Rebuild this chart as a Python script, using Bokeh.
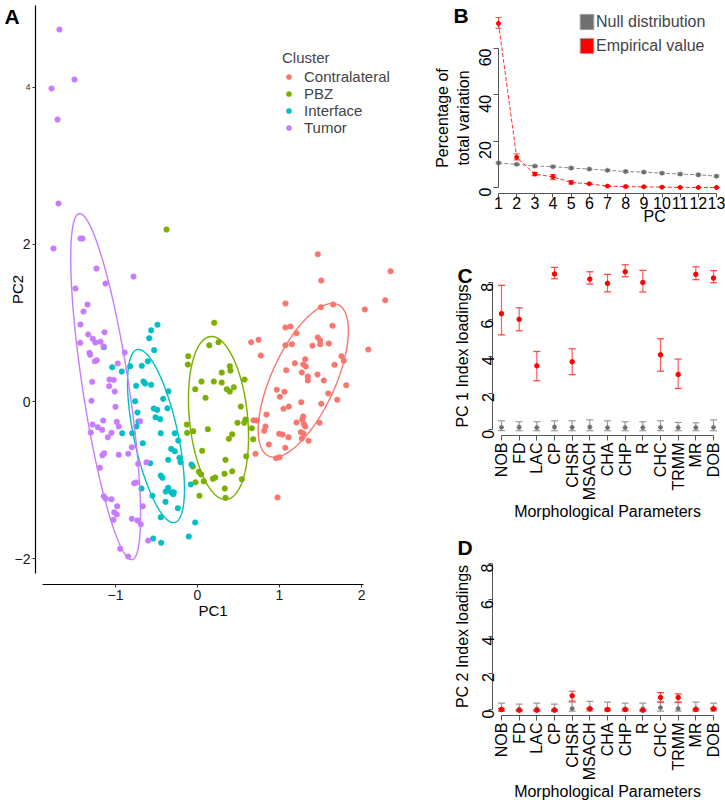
import math
import numpy as np
from bokeh.plotting import figure
from bokeh.layouts import row, column
from bokeh.models import (ColumnDataSource, Range1d, FixedTicker, Legend, LegendItem,
                          Label, Whisker, TeeHead)
from bokeh.embed import file_html
from bokeh.resources import INLINE

FONT = "Liberation Sans"

# ---------------- Panel A data ----------------
clusters = ["Contralateral", "PBZ", "Interface", "Tumor"]
cluster_colors = ["#F8766D", "#7CAE00", "#00BFC4", "#C77CFF"]

contra_pc1 = [1.467, 1.509, 2.354, 2.289, 2.040, 1.655, 1.504, 1.646, 1.467, 1.496,
              1.496, 1.601, 1.402, 2.082, 1.313, 1.289, 1.321, 1.756, 1.784, 1.671,
              1.272, 1.463, 1.345, 1.345, 1.540, 1.813, 1.594, 1.704, 1.509, 1.265,
              1.289, 1.277, 1.488, 1.296, 1.313,
              0.655, 0.744, 0.772, 1.073, 1.134, 1.207, 1.150, 1.073, 1.187, 1.082,
              0.967, 1.061, 1.004, 1.113, 1.049, 0.841, 0.683, 0.723, 1.207, 0.829,
              0.813, 1.260, 1.293, 0.996, 1.037, 1.110, 1.272, 0.870, 1.070, 0.707,
              0.960, 1.000, 1.354, 0.976, 1.073]
contra_pc2 = [1.876, 1.541, 1.660, 1.290, 1.172, 1.236, 1.201, 0.964, 0.815, 0.777,
              0.730, 0.739, 0.710, 0.662, 0.539, 0.471, 0.446, 0.577, 0.518, 0.468,
              0.369, 0.344, 0.318, 0.268, 0.268, 0.208, 0.102, 0.022, -0.029, -0.009,
              -0.191, -0.229, -0.271, -0.284, -0.318,
              0.755, 0.786, 0.586, 0.943, 0.955, 0.870, 0.730, 0.717, 0.488, 0.399,
              0.149, 0.124, 0.060, -0.064, -0.093, -0.166, -0.238, -0.242, -0.268, -0.318,
              -0.373, -0.391, -0.408, -0.411, -0.420, -0.455, -0.471, -0.548, -0.590, -0.666,
              -0.722, -0.710, -0.501, -1.223, 1.248]

pbz_pc1 = [-0.378, 0.204, 0.143, 0.256, -0.113, -0.118, 0.394, 0.402, 0.296, 0.049,
           0.199, 0.296, 0.573, 0.443, 0.357, 0.394, -0.028, 0.098, 0.528, 0.585,
           0.570, 0.488, 0.662, 0.126, -0.052, -0.130, -0.126, 0.423, 0.382, 0.679,
           0.057, 0.341, 0.594, -0.057, 0.016, 0.045, 0.077, -0.024, 0.187, 0.216,
           0.329, 0.423, 0.540, 0.024, 0.333, 0.341]
pbz_pc2 = [2.191, 1.003, 0.717, 0.755, 0.577, 0.471, 0.450, 0.395, 0.369, 0.255,
           0.255, 0.242, 0.280, 0.182, 0.157, 0.127, 0.157, 0.047, -0.064, -0.229,
           -0.271, -0.271, -0.340, -0.353, -0.378, -0.293, -0.399, -0.417, -0.475, -0.480,
           -0.628, -0.743, -0.697, -0.828, -0.896, -0.930, -1.015, -1.028, -0.985, -0.968,
           -0.921, -0.888, -0.990, -1.201, -1.108, -1.227]

inter_pc1 = [-0.488, -0.565, -0.589, -0.528, -1.143, -1.040, -0.923, -0.821, -0.679, -0.606,
             -0.659, -0.638, -0.748, -0.565, -0.354, -0.418, -0.760, -0.533, -0.491, -0.366,
             -0.732, -0.512, -0.455, -0.720, -0.744, -0.918, -0.796, -0.448, -0.277, -0.667,
             -0.321, -0.277, -0.220, -0.357, -0.577, -0.207, -0.448, -0.427, -0.683, -0.357,
             -0.387, -0.321, -0.296, -0.289, -0.549, -0.390, -0.240, -0.448, -0.028, -0.106,
             -0.540, -0.443, -0.235, -0.073, -0.082]
inter_pc2 = [0.977, 0.908, 0.806, 0.654, 0.692, 0.437, 0.382, 0.450, 0.455, 0.513,
             0.255, 0.229, 0.200, 0.213, 0.131, 0.034, 0.004, -0.089, -0.106, -0.085,
             -0.140, -0.200, -0.225, -0.255, -0.318, -0.404, -0.404, -0.404, -0.404, -0.531,
             -0.603, -0.633, -0.717, -0.743, -0.786, -0.773, -0.943, -0.972, -1.108, -1.099,
             -1.146, -1.155, -1.181, -1.155, -1.201, -1.278, -1.359, -1.474, -1.541, -1.720,
             -1.745, -1.800, -0.497, -0.803, -1.057]

tumor_pc1 = [-1.683, -1.500, -1.780, -1.707, -1.695, -1.756, -1.427, -1.402, -1.232, -1.122,
             -0.780, -1.488, -1.341, -1.390, -1.427, -1.333, -1.134, -1.277, -1.244, -1.183,
             -1.143, -1.430, -1.317, -1.309, -1.228, -1.252, -0.887, -0.972, -1.073, -1.021,
             -1.077, -1.284, -1.009, -1.293, -1.000, -1.280, -1.216, -1.150, -1.162, -0.984,
             -0.960, -1.301, -1.094, -1.049, -0.801, -1.138, -1.159, -0.960, -0.845, -0.699,
             -0.622, -0.723, -1.191, -0.772, -0.748, -1.143, -1.118, -1.049, -0.979, -1.016,
             -0.984, -1.024, -0.801, -0.732, -0.691, -0.943, -0.845, -0.601, -0.667]
tumor_pc2 = [4.739, 4.102, 3.987, 3.592, 2.522, 1.949, 2.076, 2.076, 1.694, 1.503,
             1.592, 1.439, 1.236, 1.146, 0.981, 0.854, 0.883, 0.799, 0.752, 0.761,
             0.701, 0.748, 0.620, 0.595, 0.526, 0.513, 0.624, 0.484, 0.280, 0.276,
             0.195, 0.251, 0.127, 0.009, -0.068, -0.293, -0.327, -0.242, -0.361, -0.259,
             -0.318, -0.395, -0.455, -0.399, -0.582, -0.659, -0.684, -0.679, -0.666, -0.251,
             -0.773, -0.794, -0.845, -1.041, -1.032, -1.206, -1.239, -1.245, -1.334, -1.410,
             -1.439, -1.507, -1.494, -1.516, -1.563, -1.876, -1.975, -1.771, -1.334]

# confidence ellipses (centre, semi-axes, rotation in degrees), order as clusters
ell_cx = [1.29, 0.256, -0.506, -1.12]
ell_cy = [0.27, -0.21, -0.44, 0.19]
ell_a = [1.053, 1.042, 1.124, 2.227]
ell_b = [0.391, 0.355, 0.269, 0.282]
ell_theta = [66.7, 95.3, 101.6, 98.3]

# ---------------- Panel B data ----------------
pcs = [1, 2, 3, 4, 5, 6, 7, 8, 9, 10, 11, 12, 13]
null_var = [10.6, 10.0, 9.25, 9.0, 8.4, 7.95, 7.4, 6.9, 6.65, 6.2, 5.8, 5.5, 4.9]
null_var_lo = [10.2, 9.6, 8.9, 8.6, 8.0, 7.6, 7.0, 6.5, 6.3, 5.8, 5.4, 5.1, 4.5]
null_var_hi = [11.0, 10.4, 9.6, 9.4, 8.8, 8.3, 7.8, 7.3, 7.0, 6.6, 6.2, 5.9, 5.3]
emp_var = [70.8, 13.0, 5.8, 4.6, 2.2, 1.6, 0.6, 0.4, 0.3, 0.15, 0.05, 0.0, 0.0]
emp_var_lo = [68.7, 11.9, 5.1, 3.4, 1.5, 1.3, 0.4, 0.2, 0.1, 0.0, 0.0, 0.0, 0.0]
emp_var_hi = [73.4, 14.5, 6.5, 5.6, 2.9, 1.9, 0.8, 0.6, 0.5, 0.3, 0.1, 0.05, 0.05]

# ---------------- Panels C / D data ----------------
params = ["NOB", "FD", "LAC", "CP", "CHSR", "MSACH", "CHA", "CHP", "R", "CHC", "TRMM", "MR", "DOB"]
pc1_emp = [6.32, 6.01, 3.48, 8.48, 3.70, 8.20, 7.97, 8.60, 8.02, 4.08, 3.01, 8.46, 8.26]
pc1_emp_lo = [5.17, 5.39, 2.67, 8.22, 3.00, 7.93, 7.51, 8.33, 7.50, 3.19, 2.25, 8.17, 8.00]
pc1_emp_hi = [7.86, 6.64, 4.26, 8.84, 4.41, 8.60, 8.46, 8.98, 8.68, 4.95, 3.85, 8.87, 8.66]
pc1_null = [0.13, 0.14, 0.12, 0.15, 0.13, 0.15, 0.12, 0.12, 0.12, 0.13, 0.12, 0.12, 0.13]
pc1_null_lo = [-0.05, -0.05, -0.05, -0.05, -0.05, -0.05, -0.05, -0.05, -0.05, -0.05, -0.05, -0.05, -0.05]
pc1_null_hi = [0.49, 0.44, 0.44, 0.49, 0.49, 0.54, 0.49, 0.44, 0.44, 0.49, 0.40, 0.38, 0.54]

pc2_emp = [0.0, -0.04, -0.04, -0.04, 0.75, 0.04, 0.0, 0.0, -0.04, 0.66, 0.66, 0.0, 0.04]
pc2_emp_lo = [-0.06, -0.08, -0.08, -0.08, 0.46, 0.0, -0.04, -0.04, -0.08, 0.40, 0.40, -0.04, 0.0]
pc2_emp_hi = [0.05, 0.0, 0.0, 0.0, 1.0, 0.08, 0.04, 0.04, 0.0, 0.92, 0.86, 0.04, 0.08]
pc2_null = [0.02, 0.0, 0.02, 0.0, 0.05, 0.04, 0.02, 0.02, 0.03, 0.10, 0.05, 0.04, 0.04]
pc2_null_lo = [-0.09, -0.09, -0.09, -0.09, -0.09, -0.09, -0.09, -0.09, -0.09, -0.09, -0.09, -0.09, -0.09]
pc2_null_hi = [0.35, 0.29, 0.35, 0.29, 0.40, 0.44, 0.40, 0.35, 0.35, 0.40, 0.38, 0.40, 0.35]

RED = "#FF0000"
RED_BAR = "#FF4040"
GRAY_PT = "#6E6E6E"
GRAY_BAR = "#9A9A9A"
AX_GRAY = "#555555"


def base_fig(**kw):
    p = figure(output_backend="svg", toolbar_location=None, **kw)
    p.xgrid.visible = False
    p.ygrid.visible = False
    p.outline_line_color = None
    p.background_fill_color = "white"
    p.border_fill_color = "white"
    for ax in p.axis:
        ax.major_label_text_font = FONT
        ax.axis_label_text_font = FONT
        ax.axis_label_text_font_style = "normal"
        ax.minor_tick_line_color = None
    return p


def panel_letter(p, text, x, y):
    p.add_layout(Label(x=x, y=y, text=text,
                       text_font=FONT, text_font_style="bold", text_font_size="21px",
                       text_baseline="top", text_align="left", text_color="black"))


# ---------------- Panel A ----------------
pA = base_fig(width=425, height=800,
              x_range=Range1d(-2.402, 2.780), y_range=Range1d(-2.331, 5.108),
              min_border_left=0, min_border_right=0, min_border_top=0, min_border_bottom=216)

pc1_sets = [contra_pc1, pbz_pc1, inter_pc1, tumor_pc1]
pc2_sets = [contra_pc2, pbz_pc2, inter_pc2, tumor_pc2]
items = []
for name, col, xs, ys, cx, cy, a, b, th in zip(clusters, cluster_colors, pc1_sets, pc2_sets,
                                               ell_cx, ell_cy, ell_a, ell_b, ell_theta):
    r = pA.scatter(x=xs, y=ys, size=5.6, fill_color=col, line_color=col, line_width=0.5)
    items.append(LegendItem(label=name, renderers=[r]))
    t = np.linspace(0, 2 * np.pi, 241)
    tr = np.deg2rad(th)
    ex = cx + a * np.cos(t) * np.cos(tr) - b * np.sin(t) * np.sin(tr)
    ey = cy + a * np.cos(t) * np.sin(tr) + b * np.sin(t) * np.cos(tr)
    pA.line(x=ex, y=ey, line_color=col, line_width=1.4)

legA = Legend(items=items, location=(282, 448), title="Cluster",
              title_text_font=FONT, title_text_font_size="15px", title_text_font_style="normal",
              label_text_font=FONT, label_text_font_size="15px",
              glyph_width=13, glyph_height=17, label_height=17, spacing=0,
              label_standoff=9, padding=0, margin=0, title_standoff=2,
              border_line_color=None, background_fill_alpha=0)
pA.add_layout(legA)

pA.xaxis.ticker = FixedTicker(ticks=[-1, 0, 1, 2])
pA.yaxis.ticker = FixedTicker(ticks=[-2, 0, 2, 4])
pA.yaxis.fixed_location = -1.976
pA.xaxis.bounds = (-1.89, 2.02)
pA.yaxis.bounds = (-2.19, 5.045)
pA.xaxis.axis_label = "PC1"
pA.yaxis.axis_label = "PC2"
pA.yaxis.major_label_overrides = {4: ""}
for ax in pA.axis:
    ax.axis_line_color = "black"
    ax.axis_line_width = 1.2
    ax.major_tick_line_color = "#333333"
    ax.major_tick_out = 3
    ax.major_tick_in = 0
    ax.major_label_standoff = 2
    ax.major_label_text_font_size = "14px"
    ax.major_label_text_color = "#1a1a1a"
    ax.axis_label_text_font_size = "15px"
    ax.axis_label_text_color = "black"
pA.xaxis.axis_label_standoff = -1
pA.yaxis.axis_label_standoff = -14
# the '4' tick label is printed smaller in the original
pA.add_layout(Label(x=-2.035, y=4, text="4", text_font=FONT, text_font_size="9px",
                    text_align="right", text_baseline="middle", text_color="#333333"))
panel_letter(pA, "A", -2.354, 5.045)

# ---------------- Panel B ----------------
pB = base_fig(width=300, height=225,
              x_range=Range1d(-3.018, 13.495), y_range=Range1d(-16.40, 80.72),
              min_border_left=0, min_border_right=0, min_border_top=0, min_border_bottom=0)
pB.line(x=pcs, y=null_var, line_color="#8A8A8A", line_dash="4 2", line_width=1)
pB.line(x=pcs, y=emp_var, line_color="#FF3030", line_dash="4 2", line_width=1)
srcBn = ColumnDataSource(dict(x=pcs, lo=null_var_lo, hi=null_var_hi))
srcBe = ColumnDataSource(dict(x=pcs, lo=emp_var_lo, hi=emp_var_hi))
pB.add_layout(Whisker(source=srcBn, base="x", lower="lo", upper="hi", line_color=GRAY_BAR,
                      line_width=1, upper_head=TeeHead(size=6, line_color=GRAY_BAR),
                      lower_head=TeeHead(size=6, line_color=GRAY_BAR)))
pB.add_layout(Whisker(source=srcBe, base="x", lower="lo", upper="hi", line_color=RED_BAR,
                      line_width=1, upper_head=TeeHead(size=6, line_color=RED_BAR),
                      lower_head=TeeHead(size=6, line_color=RED_BAR)))
# zero-area quads at the series points serve as the square legend keys
rq1 = pB.quad(left=pcs, right=pcs, top=null_var, bottom=null_var,
              fill_color="#6F6F6F", line_color="#A0A0A0", line_width=1)
rq2 = pB.quad(left=pcs, right=pcs, top=emp_var, bottom=emp_var,
              fill_color="#FF0000", line_color="#A0A0A0", line_width=1)
pB.scatter(x=pcs, y=null_var, marker="asterisk", size=5, line_color=GRAY_PT, line_width=1.2)
pB.scatter(x=pcs, y=emp_var, size=4, fill_color=RED, line_color=RED)
legB = Legend(items=[LegendItem(label="Null distribution", renderers=[rq1]),
                     LegendItem(label="Empirical value", renderers=[rq2])],
              location=(153, 170), label_text_font=FONT, label_text_font_size="16px",
              glyph_width=17, glyph_height=19, label_height=19, spacing=5,
              label_standoff=1, padding=0, margin=0,
              border_line_color=None, background_fill_alpha=0)
pB.add_layout(legB)
pB.xaxis.ticker = FixedTicker(ticks=pcs)
pB.yaxis.ticker = FixedTicker(ticks=[0, 20, 40, 60])
pB.xaxis.fixed_location = -2.59
pB.yaxis.fixed_location = 1.0
pB.xaxis.bounds = (1, 13)
pB.yaxis.bounds = (0, 60)
pB.yaxis.axis_label = "Percentage of\ntotal variation"
pB.yaxis.major_label_orientation = math.pi / 2
pB.add_layout(Label(x=9.6, y=-9.0, text="PC", text_font=FONT, text_font_size="16px",
                    text_align="center", text_baseline="top", text_color="black"))

# ---------------- Panels C and D ----------------
def loading_panel(height, yr, xaxis_y, emp, emp_lo, emp_hi, nul, nul_lo, nul_hi, ylab):
    p = base_fig(width=300, height=height, x_range=Range1d(-3.302, 13.679), y_range=Range1d(*yr),
                 min_border_left=0, min_border_right=0, min_border_top=0, min_border_bottom=0)
    xs = list(range(1, len(params) + 1))
    sn = ColumnDataSource(dict(x=xs, lo=nul_lo, hi=nul_hi))
    se = ColumnDataSource(dict(x=xs, lo=emp_lo, hi=emp_hi))
    p.add_layout(Whisker(source=sn, base="x", lower="lo", upper="hi", line_color=GRAY_BAR,
                         line_width=1.2, upper_head=TeeHead(size=7, line_color=GRAY_BAR, line_width=1.2),
                         lower_head=TeeHead(size=7, line_color=GRAY_BAR, line_width=1.2)))
    p.add_layout(Whisker(source=se, base="x", lower="lo", upper="hi", line_color=RED_BAR,
                         line_width=1.2, line_alpha=0.85,
                         upper_head=TeeHead(size=7, line_color=RED_BAR, line_width=1.2),
                         lower_head=TeeHead(size=7, line_color=RED_BAR, line_width=1.2)))
    p.scatter(x=xs, y=nul, marker="asterisk", size=5, line_color=GRAY_PT, line_width=1.2)
    p.scatter(x=xs, y=emp, size=4.5, fill_color=RED, line_color=RED)
    p.xaxis.ticker = FixedTicker(ticks=xs)
    p.xaxis.major_label_overrides = {i: n for i, n in zip(xs, params)}
    p.xaxis.major_label_orientation = math.pi / 2
    p.yaxis.ticker = FixedTicker(ticks=[0, 2, 4, 6, 8])
    p.yaxis.major_label_orientation = math.pi / 2
    p.xaxis.fixed_location = xaxis_y
    p.yaxis.fixed_location = 0.4906
    p.xaxis.bounds = (1, 13)
    p.yaxis.bounds = (0, 8)
    p.xaxis.axis_label = "Morphological Parameters"
    p.yaxis.axis_label = ylab
    return p


pC = loading_panel(300, (-5.208, 11.118), -0.310, pc1_emp, pc1_emp_lo, pc1_emp_hi,
                   pc1_null, pc1_null_lo, pc1_null_hi, "PC 1 Index loadings")
pD = loading_panel(275, (-4.986, 10.082), -0.329, pc2_emp, pc2_emp_lo, pc2_emp_hi,
                   pc2_null, pc2_null_lo, pc2_null_hi, "PC 2 Index loadings")

for p in (pB, pC, pD):
    for ax in p.axis:
        ax.axis_line_color = AX_GRAY
        ax.axis_line_width = 1
        ax.major_tick_line_color = AX_GRAY
        ax.major_tick_out = 5
        ax.major_tick_in = 0
        ax.major_label_standoff = 3
        ax.major_label_text_font_size = "16px"
        ax.major_label_text_color = "black"
        ax.axis_label_text_font_size = "16px"
        ax.axis_label_text_color = "black"
        ax.axis_label_standoff = 2

pB.xaxis.major_tick_out = 4
pB.xaxis.major_label_standoff = -1
pB.yaxis.major_label_standoff = 8
pB.yaxis.axis_label_standoff = -1
for p in (pC, pD):
    p.xaxis.major_label_standoff = 2
    p.xaxis.axis_label_standoff = 0
    p.yaxis.major_tick_out = 4
    p.yaxis.major_label_standoff = 1

panel_letter(pB, "B", -1.477, 79.0)
panel_letter(pC, "C", -1.49, 9.05)
panel_letter(pD, "D", -1.49, 9.53)

layout = row(pA, column(pB, pC, pD))
open("out.html", "w").write(file_html(layout, INLINE))
